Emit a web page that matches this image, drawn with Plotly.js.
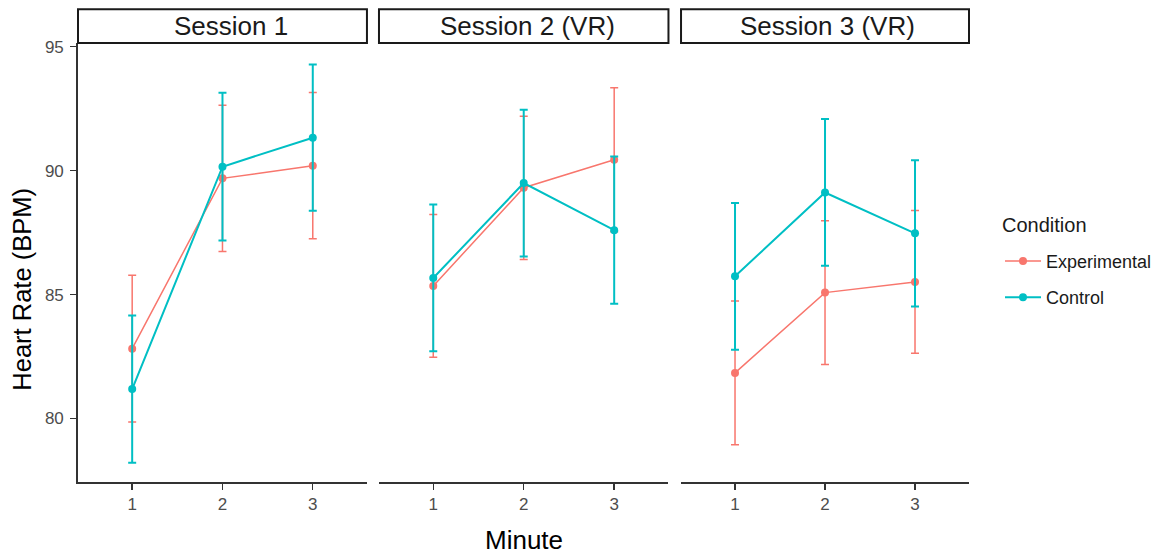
<!DOCTYPE html>
<html>
<head>
<meta charset="utf-8">
<script src="https://cdn.plot.ly/plotly-3.0.1.min.js"></script>
<style>html,body{margin:0;padding:0;background:#fff;}#chart{width:1169px;height:556px;}</style>
</head>
<body>
<div id="chart"></div>
<script>
// Data
const minutes = [1, 2, 3];
const sessions = ["Session 1", "Session 2 (VR)", "Session 3 (VR)"];
const conditions = ["Experimental", "Control"];
const legendTitle = "Condition";

const expS1 = [82.82, 89.69, 90.20];
const expS1Err = [2.96, 2.95, 2.95];
const ctrlS1 = [81.19, 90.16, 91.33];
const ctrlS1Err = [2.97, 2.98, 2.95];

const expS2 = [85.35, 89.31, 90.44];
const expS2Err = [2.88, 2.89, 2.90];
const ctrlS2 = [85.67, 89.50, 87.60];
const ctrlS2Err = [2.96, 2.96, 2.97];

const expS3 = [81.84, 85.08, 85.51];
const expS3Err = [2.90, 2.90, 2.88];
const ctrlS3 = [85.74, 89.12, 87.47];
const ctrlS3Err = [2.96, 2.96, 2.95];

const yTicks = [80, 85, 90, 95];

const colExp = "#F8766D";
const colCtrl = "#00BFC4";
const FONT = "Liberation Sans, Arial, sans-serif";

const seriesExp = [[expS1, expS1Err], [expS2, expS2Err], [expS3, expS3Err]];
const seriesCtrl = [[ctrlS1, ctrlS1Err], [ctrlS2, ctrlS2Err], [ctrlS3, ctrlS3Err]];

const traces = [];
for (let i = 0; i < 3; i++) {
  const xa = i === 0 ? "x" : "x" + (i + 1);
  const ya = i === 0 ? "y" : "y" + (i + 1);
  traces.push({
    type: "scatter", mode: "lines+markers", x: minutes, y: seriesExp[i][0],
    xaxis: xa, yaxis: ya, name: conditions[0], legendgroup: "exp", showlegend: i === 0,
    line: {color: colExp, width: 1.5}, marker: {color: colExp, size: 8},
    error_y: {type: "data", array: seriesExp[i][1], visible: true, color: colExp, thickness: 1.5, width: 4}
  });
  traces.push({
    type: "scatter", mode: "lines+markers", x: minutes, y: seriesCtrl[i][0],
    xaxis: xa, yaxis: ya, name: conditions[1], legendgroup: "ctrl", showlegend: i === 0,
    line: {color: colCtrl, width: 2}, marker: {color: colCtrl, size: 8},
    error_y: {type: "data", array: seriesCtrl[i][1], visible: true, color: colCtrl, thickness: 2, width: 4}
  });
}

const domains = [[0, 0.3243], [0.3378, 0.6627], [0.6768, 1]];
const stripTextX = [0.531, 0.512, 0.51];
const yRange = [77.44, 95.15];

const layout = {
  width: 1169, height: 556,
  margin: {l: 78, r: 200, t: 43, b: 74},
  paper_bgcolor: "#fff", plot_bgcolor: "#fff",
  font: {family: FONT, color: "#000"},
  showlegend: true,
  legend: {
    x: 1.0348, xanchor: "left", y: 0.545, yanchor: "top",
    font: {size: 18, color: "#1a1a1a", family: FONT},
    bgcolor: "rgba(0,0,0,0)", tracegroupgap: 10, itemwidth: 36
  },
  shapes: [], annotations: []
};

for (let i = 0; i < 3; i++) {
  const xk = i === 0 ? "xaxis" : "xaxis" + (i + 1);
  const yk = i === 0 ? "yaxis" : "yaxis" + (i + 1);
  const xa = i === 0 ? "x" : "x" + (i + 1);
  layout[xk] = {
    domain: domains[i], range: [0.4, 3.6], anchor: i === 0 ? "y" : "y" + (i + 1),
    tickvals: minutes, ticktext: minutes.map(String),
    showgrid: false, zeroline: false, showline: true, linecolor: "#333", linewidth: 1.8,
    ticks: "outside", ticklen: 6, tickcolor: "#333", tickwidth: 1.4,
    tickfont: {size: 17, color: "#4d4d4d", family: FONT}, fixedrange: true
  };
  layout[yk] = {
    domain: [0, 1], range: yRange, anchor: xa,
    tickvals: yTicks, ticktext: yTicks.map(String),
    showgrid: false, zeroline: false,
    showline: i === 0, linecolor: "#333", linewidth: 1.8,
    ticks: i === 0 ? "outside" : "", ticklen: 6, tickcolor: "#333", tickwidth: 1.4,
    ticklabelstandoff: 3,
    showticklabels: i === 0,
    tickfont: {size: 17, color: "#4d4d4d", family: FONT}, fixedrange: true
  };
  if (i > 0) layout[yk].matches = "y";
  // strip
  layout.shapes.push({
    type: "rect", xref: xa + " domain", yref: "paper",
    x0: 0, x1: 1, y0: 1.0, y1: 1.077,
    line: {color: "#1a1a1a", width: 2}, fillcolor: "#fff"
  });
  layout.annotations.push({
    text: sessions[i], xref: xa + " domain", yref: "paper",
    x: stripTextX[i], y: 1.0385, xanchor: "center", yanchor: "middle", showarrow: false,
    font: {size: 26, color: "#1a1a1a", family: FONT}
  });
}

layout.annotations.push({
  text: legendTitle, xref: "paper", yref: "paper", x: 1.0348, y: 0.585,
  xanchor: "left", yanchor: "middle", showarrow: false,
  font: {size: 20, color: "#1a1a1a", family: FONT}
});
layout.annotations.push({
  text: "Minute", xref: "paper", yref: "paper", x: 0.5, y: -0.132,
  xanchor: "center", yanchor: "middle", showarrow: false,
  font: {size: 26, color: "#000", family: FONT}
});
layout.annotations.push({
  text: "Heart Rate (BPM)", xref: "paper", yref: "paper", x: -0.063, y: 0.44,
  xanchor: "center", yanchor: "middle", textangle: -90, showarrow: false,
  font: {size: 25.5, color: "#000", family: FONT}
});

Plotly.newPlot("chart", traces, layout, {displayModeBar: false, staticPlot: true});
</script>
</body>
</html>
